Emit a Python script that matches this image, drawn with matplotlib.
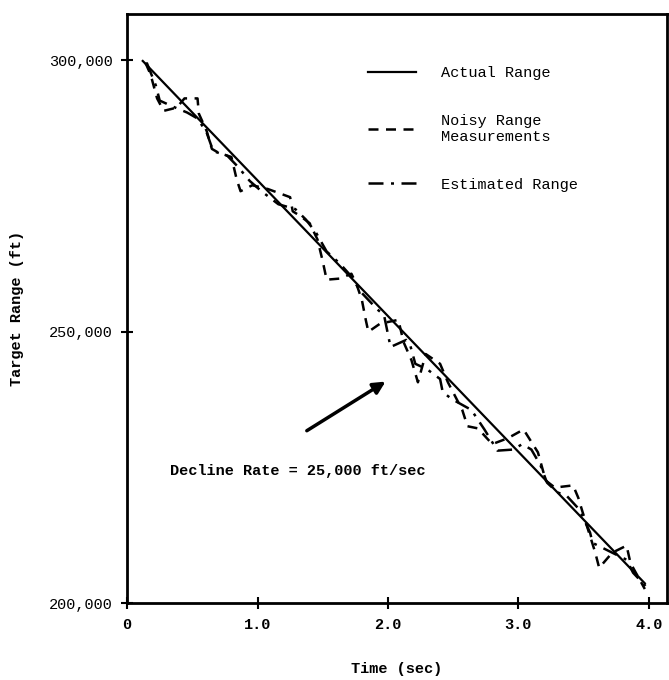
import matplotlib
matplotlib.use("Agg")
import matplotlib.pyplot as plt

plt.rcParams['font.family'] = ['Liberation Mono', 'DejaVu Sans Mono']

# actual range (straight line)
t_actual = [0.12, 3.97]
r_actual = [299900, 203650]

# noisy range measurements
t_noisy = [0.14, 0.18, 0.23, 0.28, 0.38, 0.44, 0.54, 0.55, 0.61, 0.65, 0.70, 0.80,
           0.84, 0.87, 0.96, 1.08, 1.25, 1.27, 1.33, 1.40, 1.46, 1.50, 1.53, 1.63,
           1.72, 1.76, 1.80, 1.83, 1.85, 1.94, 2.08, 2.12, 2.18, 2.23, 2.29, 2.40,
           2.46, 2.57, 2.61, 2.69, 2.80, 2.92, 3.04, 3.15, 3.21, 3.28, 3.42, 3.46,
           3.49, 3.59, 3.62, 3.72, 3.83, 3.86, 3.97]
r_noisy = [299600, 297400, 293000, 290700, 291300, 293000, 293000, 290200, 287000,
           283700, 283000, 282200, 278100, 275900, 277000, 276300, 274800, 272200,
           271300, 270000, 267000, 263000, 259600, 259800, 260700, 258700, 255900,
           252200, 250000, 251500, 252200, 248100, 244800, 240700, 245900, 244100,
           240700, 235600, 232600, 232200, 229300, 230400, 232000, 227800, 222600,
           221300, 221700, 219400, 217000, 209300, 206500, 209300, 210600, 207400,
           202600]

# estimated range
t_est = [0.15, 0.22, 0.25, 0.35, 0.46, 0.54, 0.61, 0.66, 0.77, 0.85, 0.94, 1.03,
         1.16, 1.29, 1.37, 1.45, 1.53, 1.63, 1.72, 1.79, 1.92, 1.97, 2.02, 2.14,
         2.17, 2.21, 2.30, 2.40, 2.42, 2.49, 2.64, 2.74, 2.84, 2.96, 3.03, 3.10,
         3.17, 3.22, 3.30, 3.37, 3.47, 3.55, 3.57, 3.72, 3.83, 3.88, 3.99]
r_est = [299600, 295400, 292600, 291500, 290400, 289300, 286700, 283300, 282400,
         280400, 277800, 275900, 273500, 272600, 270700, 268200, 264800, 262600,
         260200, 257400, 254100, 253100, 247200, 248500, 247600, 244100, 243100,
         241300, 238900, 237600, 235600, 232000, 228100, 228300, 229300, 228300,
         225400, 222200, 220400, 219800, 217200, 213000, 211100, 209300, 208000,
         205600, 202800]

fig = plt.figure(figsize=(6.69, 6.80), dpi=100)
ax = fig.add_axes([0.190, 0.113, 0.807, 0.866])

ax.plot(t_actual, r_actual, color='black', lw=1.6, label='Actual Range')
ax.plot(t_noisy, r_noisy, color='black', lw=1.8, linestyle=(0, (4, 3)),
        label='Noisy Range\nMeasurements')
ax.plot(t_est, r_est, color='black', lw=1.8, linestyle=(0, (6, 3, 1.2, 3)),
        label='Estimated Range')

ax.set_xlim(0, 4.14)
ax.set_ylim(200000, 308500)
ax.set_xticks([0, 1, 2, 3, 4])
ax.set_xticklabels(['0', '1.0', '2.0', '3.0', '4.0'], fontweight='bold', fontsize=11)
ax.set_yticks([200000, 250000, 300000])
ax.set_yticklabels(['200,000', '250,000', '300,000'], fontsize=11)
ax.tick_params(direction='inout', length=9, width=1.5, pad=6)

for s in ax.spines.values():
    s.set_linewidth(2)

ax.set_xlabel('Time (sec)', fontweight='bold', fontsize=11, labelpad=22)
ax.set_ylabel('Target Range (ft)', fontweight='bold', fontsize=11, labelpad=18)

leg = ax.legend(loc='upper left', bbox_to_anchor=(0.42, 0.935), frameon=False,
                handlelength=3.2, handletextpad=1.6, labelspacing=2.2, fontsize=11)

ax.annotate('', xy=(2.0, 241100), xytext=(1.36, 231500),
            arrowprops=dict(arrowstyle='-|>', color='black', lw=2.5, mutation_scale=18))
ax.text(0.33, 224400, 'Decline Rate = 25,000 ft/sec', fontsize=11, fontweight='bold',
        va='center', ha='left')

fig.savefig('out.png', dpi=100)
